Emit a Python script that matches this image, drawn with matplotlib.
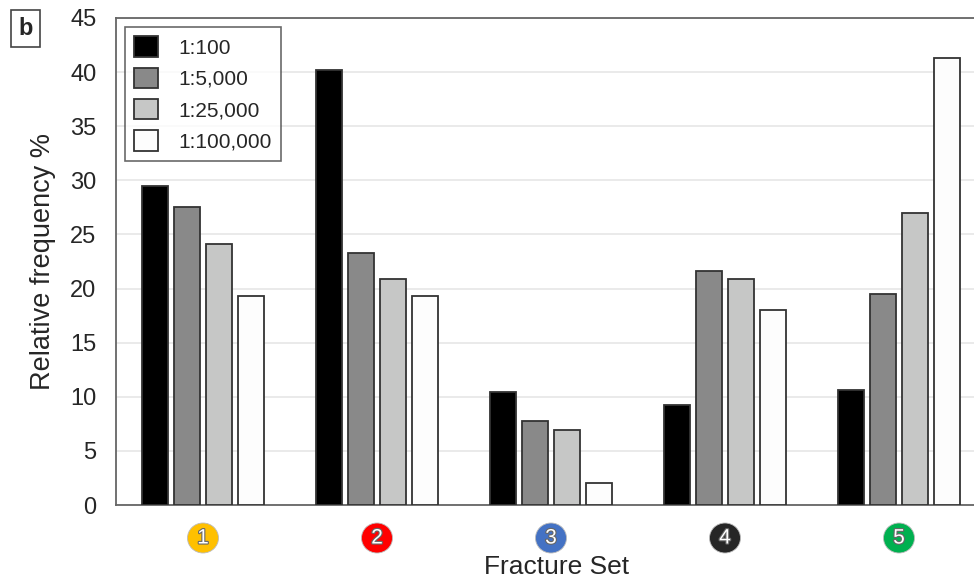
import matplotlib
matplotlib.use("Agg")
import matplotlib.pyplot as plt
import numpy as np
from matplotlib.patches import Ellipse
import matplotlib.patheffects as pe
import matplotlib.transforms as mtransforms

plt.rcParams['font.family'] = ['Liberation Sans', 'DejaVu Sans']

sets = ["1", "2", "3", "4", "5"]
set_colors = ["#FFC000", "#FF0000", "#4472C4", "#262626", "#00B050"]
scales = ["1:100", "1:5,000", "1:25,000", "1:100,000"]
scale_colors = ["#000000", "#898989", "#c6c7c6", "#fdfdfd"]
freq_1_100 = [29.5, 40.2, 10.4, 9.2, 10.6]
freq_1_5000 = [27.5, 23.3, 7.8, 21.6, 19.5]
freq_1_25000 = [24.1, 20.9, 6.9, 20.9, 27.0]
freq_1_100000 = [19.3, 19.3, 2.0, 18.0, 41.3]
series = [freq_1_100, freq_1_5000, freq_1_25000, freq_1_100000]

fig = plt.figure(figsize=(9.74, 5.86), dpi=100)
ax = fig.add_axes([116/974, 81/586, 870/974, 487/586])

x = np.arange(len(sets))
width = 0.150
step = 0.184
for i, (vals, col) in enumerate(zip(series, scale_colors)):
    ax.bar(x + (i - 1.5) * step, vals, width=width, color=col,
           edgecolor="#333333", linewidth=1.3, zorder=3, label=scales[i])

ax.set_xlim(-0.5, 4.5)
ax.set_ylim(0, 45)
ax.set_yticks(np.arange(0, 46, 5))
ax.yaxis.grid(True, color="#e6e6e6", linewidth=1.2, zorder=0)
ax.set_axisbelow(True)
ax.tick_params(axis='y', length=0, labelsize=17, labelcolor="#262626", pad=14)
ax.set_xticks(x)
ax.set_xticklabels([])
ax.tick_params(axis='x', length=0)
for s in ["left", "bottom", "top"]:
    ax.spines[s].set_color("#666666")
    ax.spines[s].set_linewidth(1.3)
ax.spines["right"].set_visible(False)

ax.yaxis.set_label_coords(-60/870, 0.5)
ax.set_ylabel("Relative frequency %", fontsize=19.5, color="#262626")

trans = mtransforms.blended_transform_factory(ax.transData, ax.transAxes)
for xi, lab, col in zip(x, sets, set_colors):
    e = Ellipse((xi, -33/487), width=31/174, height=30/487, transform=trans,
                facecolor=col, edgecolor="#bbbbbb", linewidth=0.6,
                clip_on=False, zorder=5)
    ax.add_patch(e)
    t = ax.text(xi, -33/487, lab, transform=trans, ha="center", va="center",
                color="white", fontsize=15, zorder=6, clip_on=False)
    t.set_path_effects([pe.withStroke(linewidth=1.6, foreground="#666666")])

fig.text(557/974, 1 - 567/586, "Fracture Set", ha="center", va="center",
         fontsize=19, color="#262626")

leg = ax.legend(loc="upper left", bbox_to_anchor=(9/870, 478/487), borderaxespad=0,
                fontsize=15, frameon=True, fancybox=False, handlelength=1.15,
                handleheight=1.15, labelspacing=0.47, handletextpad=0.95,
                borderpad=0.45)
leg.get_frame().set_edgecolor("#444444")
leg.get_frame().set_linewidth(1.2)
for txt in leg.get_texts():
    txt.set_color("#262626")

fig.text(25.5/974, 1 - 28.5/586, "b", ha="center", va="center", fontsize=17,
         fontweight="bold", color="#262626",
         bbox=dict(boxstyle="square,pad=0.3", facecolor="white",
                   edgecolor="#444444", linewidth=1.2))

fig.savefig("out.png", dpi=100)
